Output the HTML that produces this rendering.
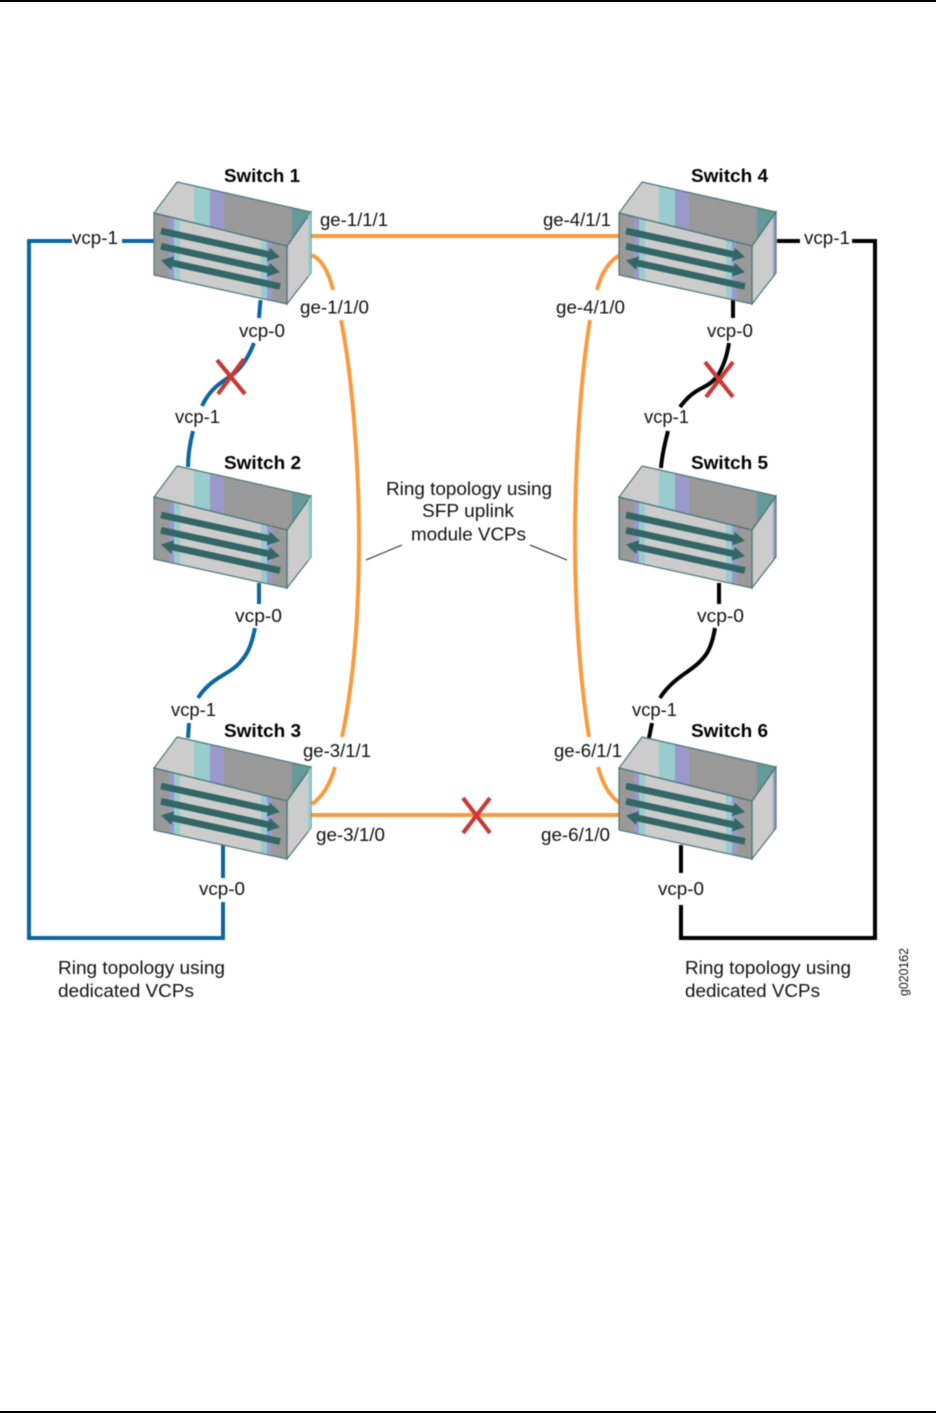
<!DOCTYPE html>
<html><head><meta charset="utf-8"><style>
html,body{margin:0;padding:0;background:#fff;width:936px;height:1413px;overflow:hidden}
svg{display:block}
#d{filter:blur(0.45px)}
text{font-family:"Liberation Sans",sans-serif;font-size:18.4px;fill:#111}
.b{font-weight:bold;fill:#000}
.l{fill:none;stroke-width:4}
.blue{stroke:#0b66a0}.blk{stroke:#000}.or{stroke:#fb9a3c}
.x{stroke:#c73a38;stroke-width:4.2;fill:none}
</style></head><body>
<svg width="936" height="1413" viewBox="0 0 936 1413" xmlns="http://www.w3.org/2000/svg">
<defs>
<clipPath id="ct"><polygon points="177,182 311,212 287,246 154,213"/></clipPath>
<clipPath id="cf"><polygon points="154,213 287,246 287,304 154,275"/></clipPath>
<g id="sw">
<polygon points="177,182 311,212 287,246 154,213" fill="#999"/>
<g clip-path="url(#ct)">
<rect x="150" y="180" width="44" height="70" fill="#ccc"/>
<rect x="194" y="180" width="16" height="70" fill="#9cc"/>
<rect x="210" y="180" width="14" height="70" fill="#99c"/>
<rect x="292" y="200" width="22" height="50" fill="#699"/>
</g>
<polygon points="154,213 287,246 287,304 154,275" fill="#999"/>
<g clip-path="url(#cf)">
<rect x="169" y="205" width="5" height="80" fill="#99c"/>
<rect x="174" y="205" width="6" height="80" fill="#9cc"/>
<rect x="180" y="205" width="81" height="100" fill="#ccc"/>
<rect x="261" y="205" width="6" height="100" fill="#9cc"/>
<rect x="267" y="205" width="5" height="100" fill="#99c"/>
</g>
<polygon points="287,246 311,212 311,273 287,304" fill="#ccc"/>
<g fill="#366">
<polygon points="161.7,227.7 269,251.1 269.8,247.6 280,257 266.8,261.2 267.6,257.7 160.3,234.3"/>
<polygon transform="translate(0,15.3)" points="161.7,227.7 269,251.1 269.8,247.6 280,257 266.8,261.2 267.6,257.7 160.3,234.3"/>
<polygon points="161,260.5 174.2,256.3 173.4,259.8 280.7,283.2 279.3,289.8 172,266.4 171.2,269.900"/>
</g>
</g>
<g id="o1"><polygon points="287,246 311,212 311,273 287,304" fill="none" stroke="#4f7778" stroke-width="1.2"/><polygon points="177,182 311,212 287,246 154,213" fill="none" stroke="#4f7778" stroke-width="1.2"/><polygon points="154,213 287,246 287,304 154,275" fill="none" stroke="#4f7778" stroke-width="1.2"/></g>
</defs>

<rect x="0" y="0" width="936" height="2" fill="#000"/>
<rect x="0" y="1411" width="936" height="2" fill="#000"/>

<g id="d">
<!-- orange -->
<path class="l or" d="M311,236H620"/>
<path class="l or" d="M311,815H620"/>
<path class="l or" d="M312,255C322,260 329,273 333,290"/>
<path class="l or" d="M341,320C353,380 359,470 359,540C359,610 354,680 342,737"/>
<path class="l or" d="M335,767C330,785 322,797 312,804"/>
<path class="l or" d="M620,255C610,260 601,273 597,290"/>
<path class="l or" d="M590,320C580,380 575,470 575,540C575,610 580,680 589,737"/>
<path class="l or" d="M598,767C603,785 610,797 620,803"/>

<!-- blue -->
<path class="l blue" d="M154,241H122"/>
<path class="l blue" d="M72,241H29V938H223V902"/>
<path class="l blue" d="M223,878V845"/>
<path class="l blue" d="M260.500,300L259,318"/>
<path class="l blue" d="M254,343C249,356 242,368 231,376C216,385 208,393 202,406"/>
<path class="l blue" d="M193,431C190,443 188,455 188,467"/>
<path class="l blue" d="M259,583V604"/>
<path class="l blue" d="M255,628C252,642 249,652 242,660C236,668 228,672 220,677C210,683 203,690 198,698"/>
<path class="l blue" d="M189,723L188,738"/>

<!-- black -->
<path class="l blk" d="M777,241H800"/>
<path class="l blk" d="M852,241H875V938H681V905"/>
<path class="l blk" d="M681,873V845"/>
<path class="l blk" d="M733,300V318"/>
<path class="l blk" d="M729,343C727,356 723,367 718,375C713,382 708,385 702,388C692,393 686,399 680,407"/>
<path class="l blk" d="M668,431C665,443 662,455 661,468"/>
<path class="l blk" d="M719,583V604"/>
<path class="l blk" d="M715,628C713,640 710,648 707,653C701,662 694,667 687,672C675,680 666,688 660,698"/>
<path class="l blk" d="M652,723L649,738"/>

<!-- switches -->
<use href="#sw"/><use href="#o1"/>
<g transform="translate(0,284)"><use href="#sw"/><use href="#o1"/></g>
<g transform="translate(0,555)"><use href="#sw"/><use href="#o1"/></g>
<polygon points="308,216 311,212 311,273 308,277" fill="#9cc"/>
<polygon points="308,500 311,496 311,557 308,561" fill="#9cc"/>
<polygon points="308,771 311,767 311,828 308,832" fill="#9cc"/>
<g transform="translate(465,0)"><use href="#sw"/><polygon points="308,216 311,212 311,273 308,277" fill="#99c"/><use href="#o1"/></g>
<g transform="translate(465,284)"><use href="#sw"/><polygon points="308,216 311,212 311,273 308,277" fill="#99c"/><use href="#o1"/></g>
<g transform="translate(465,555)"><use href="#sw"/><polygon points="308,216 311,212 311,273 308,277" fill="#99c"/><use href="#o1"/></g>

<!-- red X -->
<path class="x" d="M217,360L245,394M244,359L218,394"/>
<path class="x" d="M705,362L733,397M733,362L706,397"/>
<path class="x" d="M463,798L490,833M490,798L463,833"/>

<!-- leaders -->
<path d="M366,560L402,545M530,545L567,560" stroke="#222" stroke-width="1" fill="none"/>

<!-- labels -->
<text class="b" x="224" y="182" textLength="76" lengthAdjust="spacingAndGlyphs">Switch 1</text>
<text class="b" x="224" y="469" textLength="77" lengthAdjust="spacingAndGlyphs">Switch 2</text>
<text class="b" x="224" y="737" textLength="77" lengthAdjust="spacingAndGlyphs">Switch 3</text>
<text class="b" x="691" y="182" textLength="77" lengthAdjust="spacingAndGlyphs">Switch 4</text>
<text class="b" x="691" y="469" textLength="77" lengthAdjust="spacingAndGlyphs">Switch 5</text>
<text class="b" x="691" y="737" textLength="77" lengthAdjust="spacingAndGlyphs">Switch 6</text>

<text x="320" y="226" textLength="68" lengthAdjust="spacingAndGlyphs">ge-1/1/1</text>
<text x="543" y="226" textLength="68" lengthAdjust="spacingAndGlyphs">ge-4/1/1</text>
<text x="300" y="313.500" textLength="69" lengthAdjust="spacingAndGlyphs">ge-1/1/0</text>
<text x="556" y="313.500" textLength="69" lengthAdjust="spacingAndGlyphs">ge-4/1/0</text>
<text x="303" y="757" textLength="68" lengthAdjust="spacingAndGlyphs">ge-3/1/1</text>
<text x="554" y="757" textLength="68" lengthAdjust="spacingAndGlyphs">ge-6/1/1</text>
<text x="316" y="841" textLength="69" lengthAdjust="spacingAndGlyphs">ge-3/1/0</text>
<text x="541" y="841" textLength="69" lengthAdjust="spacingAndGlyphs">ge-6/1/0</text>

<text x="72" y="244" textLength="46" lengthAdjust="spacingAndGlyphs">vcp-1</text>
<text x="804" y="244" textLength="46" lengthAdjust="spacingAndGlyphs">vcp-1</text>
<text x="239" y="337" textLength="46" lengthAdjust="spacingAndGlyphs">vcp-0</text>
<text x="707" y="337" textLength="46" lengthAdjust="spacingAndGlyphs">vcp-0</text>
<text x="175" y="423" textLength="45" lengthAdjust="spacingAndGlyphs">vcp-1</text>
<text x="644" y="423" textLength="45" lengthAdjust="spacingAndGlyphs">vcp-1</text>
<text x="235" y="622" textLength="47" lengthAdjust="spacingAndGlyphs">vcp-0</text>
<text x="697" y="622" textLength="47" lengthAdjust="spacingAndGlyphs">vcp-0</text>
<text x="171" y="716" textLength="45" lengthAdjust="spacingAndGlyphs">vcp-1</text>
<text x="632" y="716" textLength="45" lengthAdjust="spacingAndGlyphs">vcp-1</text>
<text x="199" y="895" textLength="46" lengthAdjust="spacingAndGlyphs">vcp-0</text>
<text x="658" y="895" textLength="46" lengthAdjust="spacingAndGlyphs">vcp-0</text>

<text x="386" y="495" textLength="166" lengthAdjust="spacingAndGlyphs">Ring topology using</text>
<text x="422" y="517" textLength="92" lengthAdjust="spacingAndGlyphs">SFP uplink</text>
<text x="411" y="540.500" textLength="115" lengthAdjust="spacingAndGlyphs">module VCPs</text>

<text x="58" y="974" textLength="167" lengthAdjust="spacingAndGlyphs">Ring topology using</text>
<text x="58" y="997" textLength="136" lengthAdjust="spacingAndGlyphs">dedicated VCPs</text>
<text x="685" y="974" textLength="166" lengthAdjust="spacingAndGlyphs">Ring topology using</text>
<text x="685" y="997" textLength="135" lengthAdjust="spacingAndGlyphs">dedicated VCPs</text>

<text transform="translate(908,996) rotate(-90)" x="0" y="0" style="font-size:12.5px" textLength="48" lengthAdjust="spacingAndGlyphs">g020162</text>
</g>
</svg>
</body></html>
